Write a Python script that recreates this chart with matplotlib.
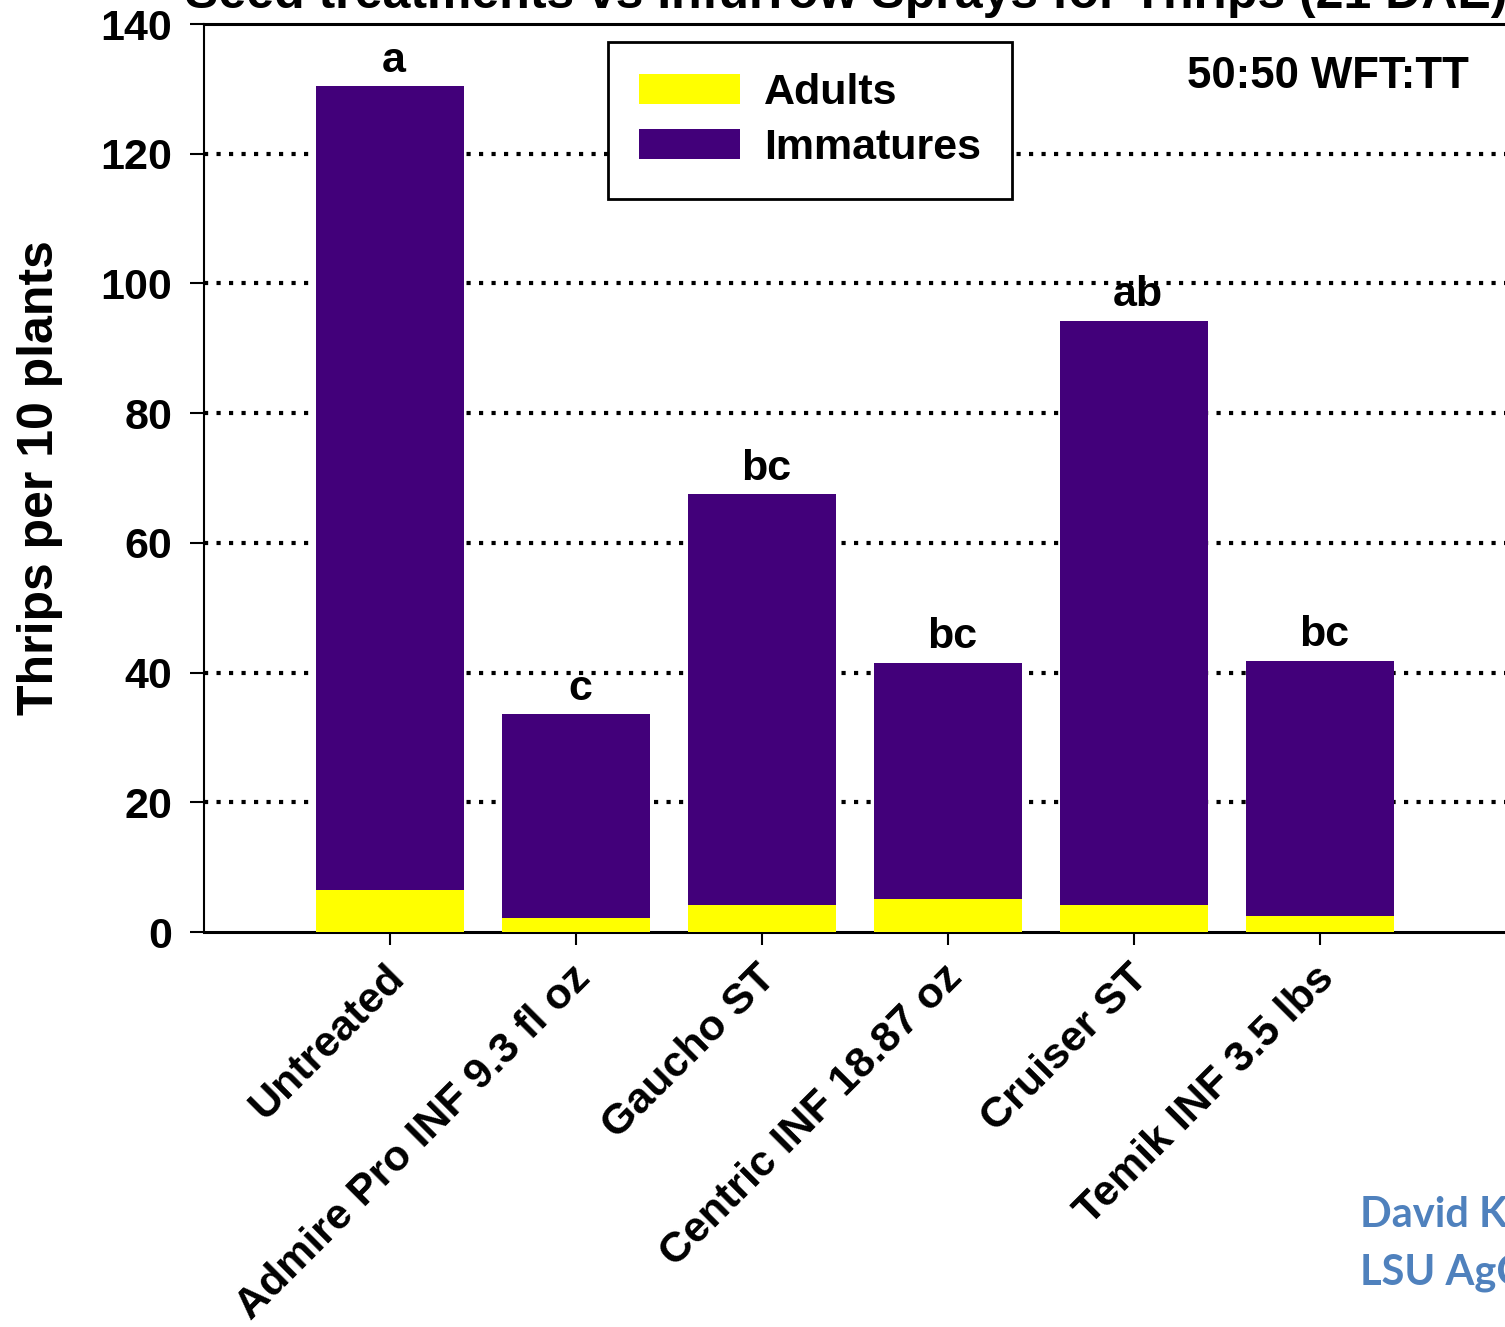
import matplotlib
matplotlib.use("Agg")
import matplotlib.pyplot as plt
import matplotlib.transforms as mtransforms
import numpy as np

plt.rcParams['font.family'] = 'sans-serif'
plt.rcParams['font.sans-serif'] = ['Liberation Sans', 'Arial', 'DejaVu Sans']
plt.rcParams['font.weight'] = 'bold'

# data
treatments = ["Untreated", "Admire Pro INF 9.3 fl oz", "Gaucho ST",
              "Centric INF 18.87 oz", "Cruiser ST", "Temik INF 3.5 lbs"]
adults = [6.4, 2.2, 4.1, 5.1, 4.1, 2.5]
immatures = [124.0, 31.4, 63.4, 36.4, 90.1, 39.3]
letters = ["a", "c", "bc", "bc", "ab", "bc"]

YELLOW = "#FFFF00"
PURPLE = "#42007A"
FS = 31

W, H = 1505, 1327
fig = plt.figure(figsize=(W / 100, H / 100), dpi=100)
# axes runs past the right edge of the figure, like the original slide crop
ax = fig.add_axes([204 / W, (H - 932) / H, 1488 / W, 908 / H])

x = np.arange(len(treatments))
b1 = ax.bar(x, adults, width=0.8, color=YELLOW, label="Adults", zorder=3)
b2 = ax.bar(x, immatures, width=0.8, bottom=adults, color=PURPLE,
            label="Immatures", zorder=3)

totals = np.array(adults) + np.array(immatures)
for xi, tot, lab in zip(x, totals, letters):
    ax.annotate(lab, (xi, tot), xytext=(3, 4), textcoords="offset points",
                ha="center", va="bottom", fontsize=FS, fontweight="bold")

ax.set_xlim(-1, 7)
ax.set_ylim(0, 140)
ax.set_yticks(range(0, 141, 20))
ax.tick_params(axis="y", labelsize=FS, length=10, width=1.5, pad=13)
ax.tick_params(axis="x", length=9, width=1.5, pad=6)
ax.set_xticks(x)
ax.set_xticklabels(treatments, rotation=45, ha="right", va="center",
                   rotation_mode="anchor", fontsize=FS)
offset = mtransforms.ScaledTranslation(8 / 100, -19 / 100, fig.dpi_scale_trans)
for lbl in ax.get_xticklabels():
    lbl.set_transform(lbl.get_transform() + offset)

for v in range(20, 140, 20):
    ax.axhline(v, color="black", lw=3, ls=(0, (1.0, 2.0)), zorder=1)

ax.spines["left"].set_linewidth(1.5)
ax.spines["bottom"].set_linewidth(2.2)
ax.spines["top"].set_linewidth(2.2)
ax.spines["right"].set_visible(False)

ax.set_ylabel("Thrips per 10 plants", fontsize=36, fontweight="bold")
ax.yaxis.set_label_coords(-141 / 1488, 0.5)

leg = ax.legend(handles=[b1, b2], loc="upper left",
                bbox_to_anchor=(608 / W, 1 - 42 / H),
                bbox_transform=fig.transFigure, fontsize=FS, frameon=True,
                fancybox=False, framealpha=1, borderaxespad=0, borderpad=0.72,
                handlelength=2.35, handleheight=0.7, handletextpad=0.55,
                labelspacing=0.35)
leg.get_frame().set_edgecolor("black")
leg.get_frame().set_linewidth(2)
leg.set_zorder(5)

fig.text(1187 / W, 1 - 76 / H, "50:50 WFT:TT", fontsize=31.5, fontweight="bold",
         ha="left", va="center")

fig.text(185 / W, 1 - 8 / H,
         "Seed treatments vs Infurrow Sprays for Thrips (21 DAE)",
         fontsize=36, fontweight="bold", ha="left", va="baseline")

fig.text(1360 / W, 1 - 1227 / H, "David Kerns", fontsize=30, fontweight="bold",
         family="Lato", color="#4F81BD", ha="left", va="baseline")
fig.text(1360 / W, 1 - 1285 / H, "LSU AgCenter", fontsize=30, fontweight="bold",
         family="Lato", color="#4F81BD", ha="left", va="baseline")

fig.savefig("out.png", dpi=100)
